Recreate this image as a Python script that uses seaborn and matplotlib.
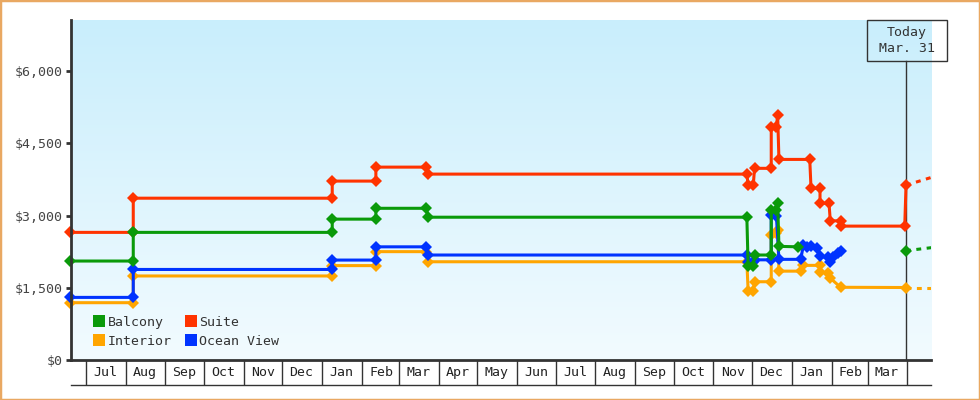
import numpy as np
import pandas as pd
import seaborn as sns
import matplotlib.pyplot as plt
import matplotlib.dates as mdates
from matplotlib.lines import Line2D
from matplotlib.patches import Rectangle
from matplotlib.colors import LinearSegmentedColormap
from matplotlib.ticker import FuncFormatter, FixedLocator

plt.rcParams['font.family'] = ['DejaVu Sans Mono', 'DejaVu Sans']

# price history per cabin (two rows at a change date: old price, new price)
suite_dates = ["2023-06-19", "2023-08-07", "2023-08-07", "2024-01-09", "2024-01-09", "2024-02-12",
               "2024-02-12", "2024-03-22", "2024-03-24", "2024-11-27", "2024-11-28", "2024-12-02",
               "2024-12-03", "2024-12-16", "2024-12-16", "2024-12-20", "2024-12-21", "2024-12-22",
               "2025-01-15", "2025-01-16", "2025-01-23", "2025-01-23", "2025-01-30", "2025-01-31",
               "2025-02-08", "2025-02-08", "2025-03-30", "2025-03-31"]
suite_prices = [2650, 2650, 3360, 3360, 3715, 3715,
                4005, 4005, 3860, 3860, 3630, 3630,
                3980, 3980, 4830, 4845, 5085, 4165,
                4165, 3565, 3565, 3255, 3255, 2890,
                2890, 2780, 2780, 3630]

balcony_dates = ["2023-06-19", "2023-08-07", "2023-08-07", "2024-01-09", "2024-01-09", "2024-02-12",
                 "2024-02-12", "2024-03-22", "2024-03-24", "2024-11-27", "2024-11-28", "2024-12-02",
                 "2024-12-03", "2024-12-16", "2024-12-16", "2024-12-20", "2024-12-21", "2024-12-22",
                 "2025-01-06"]
balcony_prices = [2055, 2055, 2650, 2650, 2925, 2925,
                  3150, 3150, 2965, 2965, 1950, 1950,
                  2180, 2180, 3115, 3125, 3265, 2360,
                  2350]
balcony_today = 2270

interior_dates = ["2023-06-19", "2023-08-07", "2023-08-07", "2024-01-09", "2024-01-09", "2024-02-12",
                  "2024-02-12", "2024-03-22", "2024-03-24", "2024-11-27", "2024-11-28", "2024-12-02",
                  "2024-12-03", "2024-12-16", "2024-12-16", "2024-12-20", "2024-12-21", "2024-12-22",
                  "2025-01-08", "2025-01-10", "2025-01-23", "2025-01-23", "2025-01-29", "2025-01-31",
                  "2025-02-08", "2025-03-31"]
interior_prices = [1190, 1190, 1745, 1745, 1960, 1960,
                   2250, 2250, 2040, 2040, 1440, 1440,
                   1625, 1625, 2600, 2640, 2700, 1845,
                   1845, 1965, 1965, 1830, 1800, 1700,
                   1510, 1505]

ocean_dates = ["2023-06-19", "2023-08-07", "2023-08-07", "2024-01-09", "2024-01-09", "2024-02-12",
               "2024-02-12", "2024-03-22", "2024-03-24", "2024-11-27", "2024-11-28", "2024-12-02",
               "2024-12-03", "2024-12-16", "2024-12-16", "2024-12-20", "2024-12-22",
               "2025-01-08", "2025-01-10", "2025-01-13", "2025-01-16", "2025-01-21", "2025-01-23",
               "2025-01-29", "2025-01-31", "2025-02-02", "2025-02-06", "2025-02-08"]
ocean_prices = [1300, 1300, 1880, 1880, 2075, 2075,
                2350, 2350, 2180, 2180, 2030, 2030,
                2080, 2080, 3010, 3000, 2090,
                2090, 2380, 2350, 2360, 2320, 2150,
                2130, 2040, 2130, 2230, 2260]

# projected prices after today (dotted)
proj_dates = ["2025-03-31", "2025-04-30"]
suite_proj = [3630, 3875]
balcony_proj = [2270, 2365]
interior_proj = [1505, 1505]

today = pd.Timestamp("2025-03-31")
month_starts = pd.date_range("2023-07-01", "2025-03-01", freq="MS")
legend_order = ["Balcony", "Interior", "Suite", "Ocean View"]
draw_order = ["Interior", "Ocean View", "Suite", "Balcony"]
colors = {"Balcony": "#0a9a0a", "Interior": "#ffa500", "Suite": "#ff3300", "Ocean View": "#0033ff"}

frames = [
    pd.DataFrame({"date": suite_dates, "price": suite_prices, "cabin": "Suite", "seg": 0}),
    pd.DataFrame({"date": balcony_dates, "price": balcony_prices, "cabin": "Balcony", "seg": 1}),
    pd.DataFrame({"date": [today], "price": [balcony_today], "cabin": "Balcony", "seg": 2}),
    pd.DataFrame({"date": interior_dates, "price": interior_prices, "cabin": "Interior", "seg": 3}),
    pd.DataFrame({"date": ocean_dates, "price": ocean_prices, "cabin": "Ocean View", "seg": 4}),
]
df = pd.concat(frames, ignore_index=True)
df["date"] = pd.to_datetime(df["date"])

proj = pd.concat([
    pd.DataFrame({"date": proj_dates, "price": suite_proj, "cabin": "Suite"}),
    pd.DataFrame({"date": proj_dates, "price": balcony_proj, "cabin": "Balcony"}),
    pd.DataFrame({"date": proj_dates, "price": interior_proj, "cabin": "Interior"}),
], ignore_index=True)
proj["date"] = pd.to_datetime(proj["date"])

fig = plt.figure(figsize=(9.8, 4.0), dpi=100)
ax = fig.add_axes([71 / 980, 40 / 400, 860 / 980, 340 / 400])

sns.lineplot(data=proj, x="date", y="price", hue="cabin", hue_order=draw_order, palette=colors,
             estimator=None, sort=False, legend=False, lw=2.2, ls=(0, (1.6, 1.8)), ax=ax, zorder=2)
sns.lineplot(data=df, x="date", y="price", hue="cabin", hue_order=draw_order, palette=colors,
             units="seg", estimator=None, sort=False, legend=False, lw=2.2,
             marker="D", markersize=6, markeredgewidth=0, clip_on=False, ax=ax, zorder=3)

# background gradient
bg = LinearSegmentedColormap.from_list("bg", ["#c9eefc", "#f2fbff"])
ax.imshow(np.linspace(0, 1, 256).reshape(-1, 1), cmap=bg, extent=[0, 1, 0, 1],
          transform=ax.transAxes, aspect="auto", zorder=0)

ax.set_xlim(pd.Timestamp("2023-06-19 12:00"), pd.Timestamp("2025-04-19 11:00"))
ax.set_ylim(0, 7060)
ax.set_xlabel("")
ax.set_ylabel("")

for s in ["top", "right"]:
    ax.spines[s].set_visible(False)
for s in ["left", "bottom"]:
    ax.spines[s].set_linewidth(2)
    ax.spines[s].set_color("#333333")
    ax.spines[s].set_zorder(4)

ax.set_yticks([0, 1500, 3000, 4500, 6000])
ax.yaxis.set_major_formatter(FuncFormatter(lambda v, p: f"${v:,.0f}"))
ax.tick_params(axis="y", length=3.6, width=2, color="#333333", labelcolor="#444444",
               labelsize=9.5, pad=2.5)

# month boxes: separators at month starts, labels at mid-month
ax.xaxis.set_major_locator(mdates.MonthLocator())
ax.xaxis.set_major_formatter(plt.NullFormatter())
ax.xaxis.set_minor_locator(FixedLocator(mdates.date2num(month_starts + pd.Timedelta(days=15))))
ax.xaxis.set_minor_formatter(mdates.DateFormatter("%b"))
ax.tick_params(axis="x", which="major", length=18, width=1, color="#333333")
ax.tick_params(axis="x", which="minor", length=0, pad=4.5, labelsize=9.5, labelcolor="#222222")
ax.plot([0, 1], [-25 / 340, -25 / 340], transform=ax.transAxes, clip_on=False,
        color="#333333", lw=1)

# today marker line and box
ax.axvline(today, ymin=0, ymax=(360 - 60.7) / 340, color="#333333", lw=1, zorder=1.5)
fig.patches.append(Rectangle((866.7 / 980, (400 - 60.7) / 400), 80 / 980, 40.7 / 400,
                             transform=fig.transFigure, fill=False, edgecolor="#333333", lw=1))
fig.text(906.7 / 980, (400 - 40.5) / 400, f"Today\n{today:%b}. {today.day}", ha="center",
         va="center", fontsize=9.5, color="#333333", linespacing=1.3)

handles = [Line2D([], [], ls="none", marker="s", markersize=8, markeredgewidth=0,
                  color=colors[c], label=c) for c in legend_order]
ax.legend(handles=handles, ncol=2, loc="lower left", bbox_to_anchor=(0.027, 0.036), frameon=False,
          handlelength=0.8, handletextpad=0.25, columnspacing=1.0, labelspacing=0.45,
          borderpad=0, borderaxespad=0, fontsize=9.5, labelcolor="#333333")

# outer frame
fig.patches.append(Rectangle((0, 0), 1, 1, transform=fig.transFigure, fill=False,
                             edgecolor="#e9a862", lw=2.5))

fig.savefig("out.png", dpi=100)
